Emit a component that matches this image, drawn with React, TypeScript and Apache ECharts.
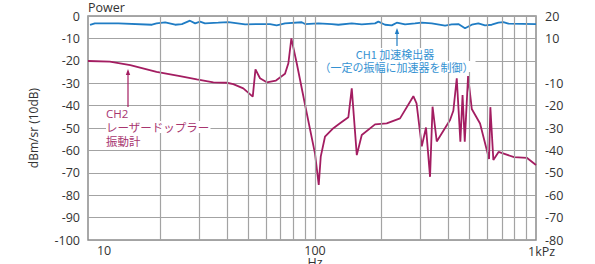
import React, { useEffect, useRef } from "react";
import * as echarts from "echarts";

// CH2 (laser Doppler vibrometer) — frequency (Hz) and level (dBm/sr, left axis)
const ch2Freq = [9.4, 11.8, 14.6, 19.2, 24.5, 29.2, 34.7, 39.9, 42.7, 47.4, 52.3, 53.8, 56.4, 60.5, 66.6, 73.2, 75.8, 78.2, 82.7, 91.8, 100.0, 104.0, 106.2, 111.0, 121.1, 129.8, 141.6, 146.7, 154.6, 162.8, 187.0, 211.2, 242.6, 278.7, 288.1, 304.2, 318.0, 331.6, 340.4, 355.6, 408.4, 422.7, 438.0, 454.8, 465.3, 476.1, 492.8, 512.2, 558.3, 613.3, 621.6, 641.3, 677.1, 795.8, 908.3, 1000];
const ch2Db = [-20.1, -20.4, -21.9, -24.9, -26.8, -28.3, -29.6, -29.8, -30.4, -32.3, -36.0, -23.8, -27.8, -29.6, -28.8, -25.8, -21.1, -10.0, -21.1, -43.4, -61.3, -75.4, -62.8, -53.9, -50.1, -47.9, -45.2, -32.3, -62.1, -53.1, -48.4, -47.9, -45.7, -35.8, -39.0, -58.2, -49.8, -71.8, -40.5, -56.0, -46.4, -42.3, -27.8, -56.1, -35.3, -56.1, -26.8, -41.5, -48.0, -63.8, -40.7, -64.3, -60.7, -63.0, -63.3, -66.5];

// CH1 (accelerometer) — frequency (Hz) and level (right axis)
const ch1Freq = [9.6, 10.1, 12.9, 18.3, 19.2, 21.0, 23.3, 25.0, 27.2, 28.7, 30.2, 31.8, 36.5, 40.6, 48.3, 55.4, 62.6, 67.1, 73.2, 87.1, 90.2, 103.6, 119.1, 127.6, 146.7, 162.8, 187.0, 193.5, 207.5, 222.5, 234.5, 255.6, 283.6, 304.2, 337.6, 387.8, 415.8, 445.4, 477.5, 512.2, 548.5, 588.1, 630.6, 675.7, 711.8, 749.8, 1000];
const ch1Db = [16.0, 16.7, 16.7, 16.1, 16.7, 17.2, 16.1, 16.4, 17.9, 16.7, 17.5, 16.7, 17.0, 17.3, 16.3, 16.4, 16.4, 15.8, 16.7, 17.2, 16.4, 16.7, 16.4, 16.1, 16.7, 16.3, 16.7, 17.5, 16.1, 15.8, 17.0, 16.3, 16.7, 17.0, 16.7, 15.7, 16.3, 16.4, 14.5, 16.1, 16.7, 15.8, 16.1, 17.0, 17.3, 16.6, 16.4];

// Vertical grid lines (Hz)
const gridFreqs = [20, 30, 40, 50, 60, 70, 80, 90, 100, 200, 300, 400, 500, 600, 700, 800, 900];

// X tick labels
const xTickValues = [10, 100, 1000];
const xTickLabels = ["10", "100", "1kPz"];

const NUM_FONT = '"Open Sans", "Noto Sans", sans-serif';
const JP_FONT = '"Noto Sans CJK JP", "Noto Sans", sans-serif';
const MAGENTA = "#a31d61";
const MAGENTA_TEXT = "#a8356f";
const BLUE = "#1f7cc4";
const BLUE_TEXT = "#3592d2";
const GRID = "#a3a3a3";
const AXIS_TEXT = "#333";

export default function App() {
  const ref = useRef<HTMLDivElement>(null);

  useEffect(() => {
    const chart = echarts.init(ref.current!, null, { renderer: "svg" });
    chart.setOption({
      animation: false,
      grid: {
        left: 88,
        right: 59,
        top: 16,
        bottom: 24,
        show: true,
        borderColor: "#8c8c8c",
        borderWidth: 1.5,
        backgroundColor: "transparent",
      },
      xAxis: {
        type: "log",
        logBase: 10,
        min: 9.4,
        max: 1000,
        axisLine: { show: false },
        axisTick: { show: false },
        axisLabel: { show: false },
        splitLine: { show: false },
      },
      yAxis: [
        {
          type: "value",
          min: -100,
          max: 0,
          interval: 10,
          axisLine: { show: false },
          axisTick: { show: false },
          axisLabel: { color: AXIS_TEXT, fontSize: 12.5, fontFamily: NUM_FONT, margin: 8 },
          splitLine: { show: true, lineStyle: { color: GRID, width: 1.2 } },
        },
        {
          type: "value",
          position: "right",
          min: -80,
          max: 20,
          interval: 10,
          axisLine: { show: false },
          axisTick: { show: false },
          axisLabel: {
            color: AXIS_TEXT,
            fontSize: 12.5,
            fontFamily: NUM_FONT,
            margin: 9,
            formatter: (v: number) => (v === 0 ? "" : String(v)),
          },
          splitLine: { show: false },
        },
      ],
      series: [
        {
          type: "line",
          name: "grid",
          data: [],
          silent: true,
          z: 1,
          markLine: {
            silent: true,
            symbol: ["none", "none"],
            label: { show: false },
            lineStyle: { color: GRID, width: 1.2, type: "solid" },
            data: gridFreqs.map((f) => ({ xAxis: f })),
          },
        },
        {
          type: "line",
          name: "CH2",
          yAxisIndex: 0,
          data: ch2Freq.map((f, i) => [f, ch2Db[i]]),
          showSymbol: false,
          lineStyle: { color: MAGENTA, width: 1.8 },
          itemStyle: { color: MAGENTA },
          z: 3,
        },
        {
          type: "line",
          name: "CH1",
          yAxisIndex: 1,
          data: ch1Freq.map((f, i) => [f, ch1Db[i]]),
          showSymbol: false,
          lineStyle: { color: BLUE, width: 1.8 },
          itemStyle: { color: BLUE },
          z: 3,
        },
      ],
    });

    const xPix = (v: number) => chart.convertToPixel({ xAxisIndex: 0 }, v) as number;
    const tickAligns = ["left", "center", "left"];
    const tickShift = [3, 0, -8];
    const tickGraphics = xTickValues.map((v, i) => ({
      type: "text",
      x: xPix(v) + tickShift[i],
      y: i === 2 ? 251.5 : 250,
      z: 10,
      style: {
        text: xTickLabels[i],
        fill: AXIS_TEXT,
        font: `12.5px ${NUM_FONT}`,
        lineHeight: 11,
        align: tickAligns[i],
        verticalAlign: "middle",
      },
    }));

    const arrowHead = (x: number, y: number, color: string) => ({
      type: "polygon",
      z: 10,
      shape: { points: [[x, y], [x - 2.2, y + 6], [x + 2.2, y + 6]] },
      style: { fill: color },
    });

    chart.setOption({
      graphic: [
        ...tickGraphics,
        {
          type: "text",
          x: xPix(100),
          y: 256.5,
          z: 10,
          style: {
            text: "Hz",
            fill: AXIS_TEXT,
            font: `12.5px ${NUM_FONT}`,
            lineHeight: 11,
            align: "center",
            verticalAlign: "top",
          },
        },
        {
          type: "text",
          x: 88,
          y: 7.5,
          z: 10,
          style: { text: "Power", fill: AXIS_TEXT, font: `12.5px ${NUM_FONT}`, align: "left", verticalAlign: "middle" },
        },
        {
          type: "text",
          x: 33,
          y: 128,
          rotation: Math.PI / 2,
          z: 10,
          style: { text: "dBm/sr (10dB)", fill: AXIS_TEXT, font: `12px ${NUM_FONT}`, align: "center", verticalAlign: "middle" },
        },
        // CH2 annotation
        {
          type: "line",
          z: 10,
          shape: { x1: 128, y1: 107, x2: 128, y2: 72 },
          style: { stroke: MAGENTA, lineWidth: 1.2 },
        },
        arrowHead(128, 69, MAGENTA),
        ...["CH2", "レーザードップラー", "振動計"].map((t, i) => ({
          type: "text",
          x: 106,
          y: [113, 127, 141][i],
          z: 10,
          style: {
            text: t,
            fill: MAGENTA_TEXT,
            font: `11.5px ${i === 0 ? NUM_FONT : JP_FONT}`,
            lineHeight: 12,
            align: "left",
            verticalAlign: "middle",
            backgroundColor: "#fff",
            padding: [0, 1, 0, 0],
          },
        })),
        // CH1 annotation
        {
          type: "line",
          z: 10,
          shape: { x1: 397, y1: 46, x2: 397, y2: 31 },
          style: { stroke: BLUE, lineWidth: 1.2 },
        },
        arrowHead(397, 28, BLUE),
        ...["CH1 加速検出器", "（一定の振幅に加速器を制御）"].map((t, i) => ({
          type: "text",
          x: [395, 396.5][i],
          y: [53.5, 66.5][i],
          z: 10,
          style: {
            text: t,
            fill: BLUE_TEXT,
            font: `11px ${JP_FONT}`,
            lineHeight: 11,
            align: "center",
            verticalAlign: "middle",
            backgroundColor: "#fff",
            padding: [0, 2, 0, 2],
          },
        })),
      ],
    });

    return () => chart.dispose();
  }, []);

  return (
    <div
      ref={ref}
      style={{ position: "fixed", left: 0, top: 0, width: 595, height: 264, background: "#fff" }}
    />
  );
}
